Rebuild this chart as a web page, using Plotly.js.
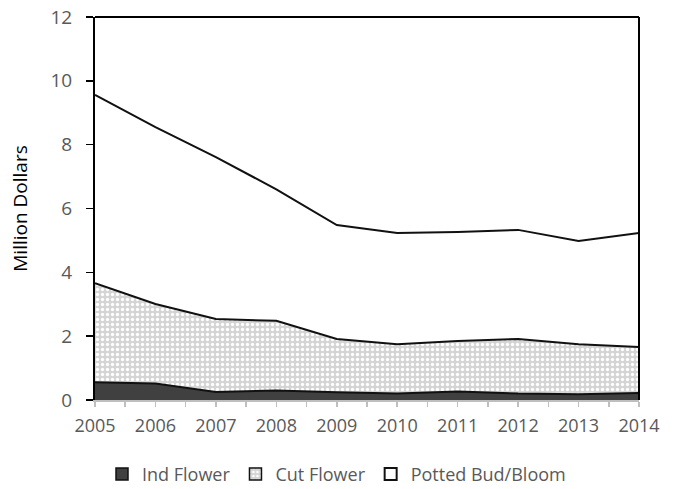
<!DOCTYPE html>
<html>
<head>
<meta charset="utf-8">
<script src="https://cdn.plot.ly/plotly-3.0.1.min.js"></script>
<style>html,body{margin:0;padding:0;background:#fff;}#chart{width:673px;height:489px;}</style>
</head>
<body>
<div id="chart"></div>
<script>
const years = [2005, 2006, 2007, 2008, 2009, 2010, 2011, 2012, 2013, 2014];
const indFlower = [0.56, 0.52, 0.25, 0.30, 0.24, 0.20, 0.27, 0.20, 0.18, 0.22];
const cutFlower = [3.10, 2.49, 2.29, 2.18, 1.67, 1.55, 1.58, 1.71, 1.57, 1.44];
const pottedBudBloom = [5.90, 5.54, 5.07, 4.12, 3.57, 3.48, 3.41, 3.42, 3.23, 3.57];
const seriesNames = ['Ind Flower', 'Cut Flower', 'Potted Bud/Bloom'];
const yTicks = [0, 2, 4, 6, 8, 10, 12];

const font = "'Open Sans', 'Liberation Sans', sans-serif";
const cutPattern = {shape: '.', bgcolor: '#d4d4d4', fgcolor: '#ffffff', size: 5, solidity: 0.35};

const traces = [
  {
    x: years, y: indFlower, name: seriesNames[0], type: 'scatter', mode: 'lines',
    stackgroup: 'one', line: {color: '#111111', width: 2}, showlegend: false,
    fillcolor: '#404040'
  },
  {
    x: years, y: cutFlower, name: seriesNames[1], type: 'scatter', mode: 'lines',
    stackgroup: 'one', line: {color: '#111111', width: 2}, showlegend: false,
    fillcolor: '#d9d9d9', fillpattern: cutPattern
  },
  {
    x: years, y: pottedBudBloom, name: seriesNames[2], type: 'scatter', mode: 'lines',
    stackgroup: 'one', line: {color: '#111111', width: 2}, showlegend: false,
    fillcolor: '#ffffff'
  },
  // legend keys (square swatches)
  {x: [null], y: [null], type: 'bar', name: seriesNames[0], marker: {color: '#404040', line: {color: '#111111', width: 1.5}}},
  {x: [null], y: [null], type: 'bar', name: seriesNames[1], marker: {color: '#d4d4d4', pattern: cutPattern, line: {color: '#111111', width: 1.5}}},
  {x: [null], y: [null], type: 'bar', name: seriesNames[2], marker: {color: '#ffffff', line: {color: '#111111', width: 2}}}
];

const layout = {
  width: 673, height: 489,
  margin: {l: 95, r: 34, t: 17, b: 89, autoexpand: false},
  paper_bgcolor: '#ffffff', plot_bgcolor: '#ffffff',
  font: {family: font, size: 18, color: '#595959'},
  showlegend: true,
  legend: {
    orientation: 'h', x: 0.5, xanchor: 'center', xref: 'container',
    y: 0.03, yanchor: 'middle', yref: 'container',
    font: {family: font, size: 18, color: '#595959'},
    traceorder: 'normal', itemwidth: 30
  },
  xaxis: {
    range: [2005, 2014], tickmode: 'array', tickvals: years, ticktext: years.map(String),
    showgrid: false, zeroline: false, showline: true, linecolor: '#bfbfbf', linewidth: 1.5,
    ticks: 'outside', ticklen: 5, tickcolor: '#bfbfbf', tickwidth: 1.5,
    minor: {dtick: 0.5, tick0: 2005, ticks: 'outside', ticklen: 5, tickcolor: '#bfbfbf', tickwidth: 1.5},
    tickfont: {family: font, size: 18, color: '#595959'}, ticklabelstandoff: 4
  },
  yaxis: {
    range: [0, 12], tickmode: 'array', tickvals: yTicks,
    showgrid: false, zeroline: false, showline: true, linecolor: '#000000', linewidth: 2,
    ticks: 'outside', ticklen: 7, tickcolor: '#000000', tickwidth: 1.5,
    tickfont: {family: font, size: 19, color: '#595959'}, ticklabelstandoff: 10,
    title: {text: 'Million Dollars', font: {family: font, size: 19, color: '#000000'}, standoff: 18}
  },
  shapes: [
    {type: 'line', xref: 'paper', yref: 'paper', x0: 0, x1: 1, y0: 1, y1: 1, line: {color: '#000000', width: 2}},
    {type: 'line', xref: 'paper', yref: 'paper', x0: 1, x1: 1, y0: 0, y1: 1, line: {color: '#000000', width: 2}}
  ]
};

Plotly.newPlot('chart', traces, layout, {displayModeBar: false, staticPlot: true});
</script>
</body>
</html>
